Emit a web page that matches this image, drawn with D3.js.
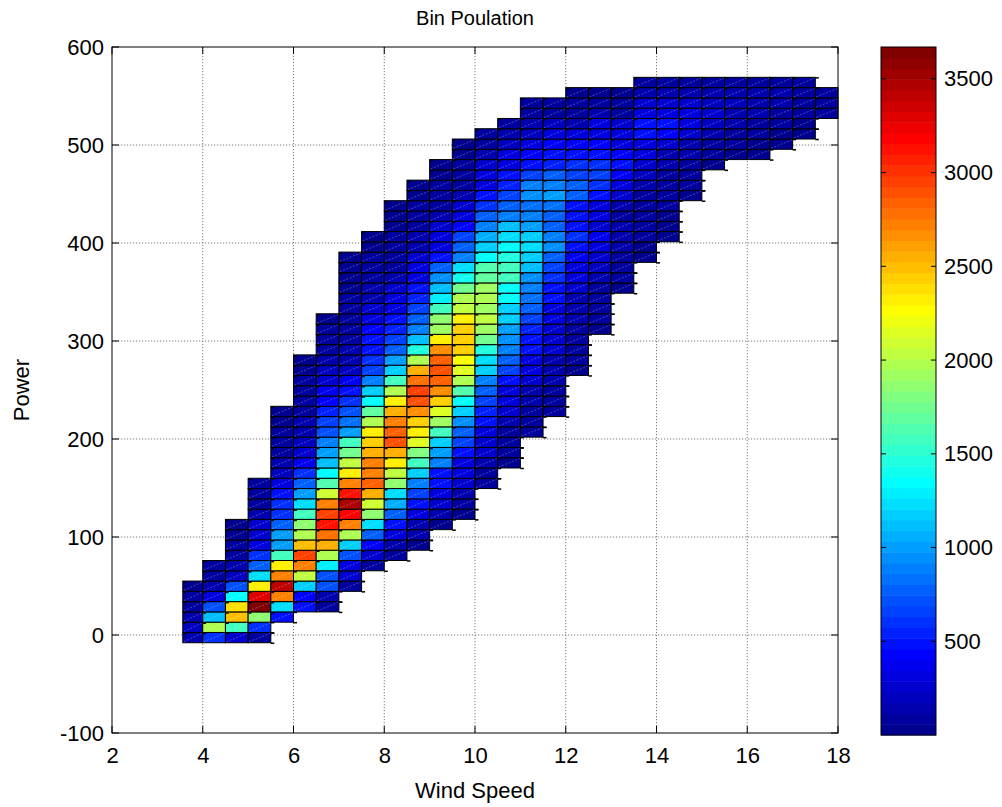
<!DOCTYPE html>
<html>
<head>
<meta charset="utf-8">
<script src="https://cdn.jsdelivr.net/npm/d3@7"></script>
<style>
  body { margin: 0; background: #fff; }
  text { font-family: "Liberation Sans", Arial, Helvetica, sans-serif; fill: #000; }
</style>
</head>
<body>
<svg id="chart" width="1002" height="807"></svg>
<script>
// Wind speed bin edges (m/s); one column of cells per bin
const windEdges = [3.56, 4, 4.5, 5, 5.5, 6, 6.5, 7, 7.5, 8, 8.5, 9, 9.5, 10, 10.5, 11,
                   11.5, 12, 12.5, 13, 13.5, 14, 14.5, 15, 15.5, 16, 16.5, 17, 17.5, 18];

// Power bins: lower edge of the first bin and bin height
const powerBinStart = -7.9;
const powerBinStep = 10.49;

// Index of the lowest populated power bin in each wind column
const firstPowerBin = [0, 0, 0, 0, 2, 3, 3, 5, 7, 8, 9, 11, 12, 15, 17, 20, 22, 26, 30, 34,
                       37, 39, 43, 46, 47, 47, 48, 49, 51];

// Sample counts per bin, listed bottom to top for each wind column
const binCounts = [
  [120, 180, 150, 100, 70, 50],
  [630, 1950, 1100, 690, 340, 170, 90, 60],
  [230, 1600, 2500, 2400, 1376, 690, 200, 120, 80, 60, 50, 40],
  [80, 600, 1835, 3670, 3300, 2294, 1261, 750, 630, 344, 230, 280, 120, 100, 80, 60],
  [500, 1261, 2700, 3440, 2700, 2350, 1550, 1030, 1030, 800, 630, 580, 500, 300, 200, 120,
   100, 80, 60, 50, 40],
  [500, 420, 1147, 2064, 2750, 2980, 2523, 2000, 1835, 1550, 1261, 980, 750, 600, 350, 230,
   200, 170, 150, 100, 80, 60, 60, 50, 40],
  [60, 170, 690, 700, 1300, 2000, 2550, 2800, 3150, 2950, 2750, 2100, 1650, 1350, 1100, 1000,
   900, 700, 650, 550, 450, 350, 250, 180, 120, 90, 70, 60, 40],
  [60, 230, 344, 720, 1150, 1950, 2750, 3200, 3450, 3150, 2750, 2350, 2050, 1750, 1550, 1000,
   850, 700, 600, 500, 350, 180, 150, 130, 110, 100, 80, 70, 60, 50, 40, 40, 30],
  [100, 230, 440, 800, 1250, 1850, 2100, 2550, 2850, 2750, 2700, 2550, 2450, 2294, 2000, 1700,
   1376, 1147, 917, 688, 630, 500, 460, 420, 344, 230, 170, 120, 100, 80, 70, 50, 40],
  [60, 170, 340, 460, 800, 1050, 1260, 1835, 2050, 2294, 2550, 2900, 2850, 2750, 2550, 2300,
   2000, 1600, 1200, 1030, 800, 688, 570, 460, 344, 290, 230, 170, 100, 80, 70, 60, 50, 40, 30],
  [55, 120, 170, 344, 460, 688, 900, 1150, 1550, 1800, 2150, 2294, 2450, 2650, 2900, 2950,
   2800, 2550, 1950, 1450, 1090, 917, 800, 688, 570, 460, 344, 290, 230, 170, 130, 100, 80, 60, 50, 40],
  [40, 170, 230, 290, 480, 460, 917, 1030, 1200, 1600, 1900, 2150, 2450, 2650, 2850, 2900,
   2850, 2650, 2294, 1900, 1835, 1600, 1300, 1100, 950, 750, 460, 344, 290, 230, 170, 100, 80, 60, 50, 40],
  [55, 100, 170, 230, 300, 344, 460, 688, 750, 970, 1147, 1376, 1650, 1950, 2150, 2250,
   2450, 2450, 2450, 2350, 2060, 2000, 1750, 1420, 1250, 917, 800, 688, 420, 344, 230, 170, 100, 80, 60, 50, 40],
  [60, 80, 120, 230, 230, 300, 460, 570, 688, 800, 917, 1147, 1261, 1450, 1750, 1900,
   2060, 1900, 2000, 1900, 1700, 1650, 1376, 1200, 1050, 900, 750, 600, 460, 344, 290, 230, 170, 100, 60],
  [40, 60, 70, 90, 170, 230, 290, 344, 460, 688, 800, 917, 970, 1030, 1147, 1147,
   1320, 1376, 1600, 1550, 1450, 1350, 1261, 1100, 917, 800, 688, 570, 460, 344, 290, 200, 120, 60],
  [60, 90, 110, 150, 170, 230, 290, 344, 460, 500, 570, 688, 800, 860, 917, 970,
   1090, 1147, 1250, 1147, 1030, 917, 860, 970, 917, 688, 500, 420, 290, 200, 170, 100, 60],
  [60, 80, 100, 150, 120, 170, 230, 230, 230, 290, 344, 460, 500, 630, 688, 800,
   950, 917, 800, 800, 850, 1030, 917, 750, 570, 460, 420, 290, 200, 100, 60],
  [50, 70, 80, 100, 110, 120, 130, 170, 230, 290, 300, 400, 500, 630, 500, 460,
   460, 800, 750, 688, 630, 500, 420, 344, 170, 90, 60, 40],
  [40, 60, 70, 90, 100, 150, 200, 250, 300, 350, 230, 290, 344, 460, 600, 688,
   630, 460, 420, 344, 290, 170, 80, 40],
  [40, 60, 80, 100, 130, 150, 170, 100, 170, 230, 344, 420, 460, 420, 344, 290, 230, 100, 60, 40],
  [40, 50, 60, 70, 80, 90, 100, 130, 200, 280, 300, 344, 460, 460, 300, 230, 150, 80],
  [30, 40, 50, 60, 70, 90, 110, 140, 170, 230, 420, 500, 290, 230, 170, 80],
  [40, 60, 80, 100, 130, 170, 230, 344, 290, 230, 170, 80],
  [40, 60, 90, 130, 200, 230, 200, 170, 80],
  [40, 60, 90, 120, 170, 200, 170, 80],
  [30, 50, 70, 100, 130, 170, 150, 80],
  [30, 50, 80, 110, 130, 120, 70],
  [30, 50, 80, 100, 90, 60],
  [60, 90, 70]
];

const xTickValues = [2, 4, 6, 8, 10, 12, 14, 16, 18];
const yTickValues = [-100, 0, 100, 200, 300, 400, 500, 600];
const colorTickValues = [500, 1000, 1500, 2000, 2500, 3000, 3500];

const chartTitle = "Bin Poulation";
const xLabel = "Wind Speed";
const yLabel = "Power";

// ---- layout ----
const plotBox = { left: 112, right: 838, top: 47, bottom: 733 };
const barBox = { left: 881, right: 936, top: 47, bottom: 735 };
const plainNumber = d => String(d);   // hyphen-minus, no thousands separator
const tickFont = 22;

const svg = d3.select("#chart");

const x = d3.scaleLinear().domain([2, 18]).range([plotBox.left, plotBox.right]);
const y = d3.scaleLinear().domain([-100, 600]).range([plotBox.bottom, plotBox.top]);

// MATLAB-style 64-step jet colormap
function jetColors(m) {
  const n = Math.ceil(m / 4);
  const u = [];
  for (let k = 1; k <= n; k++) u.push(k / n);
  for (let k = 0; k < n - 1; k++) u.push(1);
  for (let k = n; k >= 1; k--) u.push(k / n);
  const shift = Math.ceil(n / 2) - (m % 4 === 1 ? 1 : 0);
  const pick = j => (j >= 1 && j <= u.length) ? u[j - 1] : 0;
  const out = [];
  for (let i = 1; i <= m; i++) {
    const g = i - shift, r = g - n, b = g + n;
    out.push(d3.rgb(255 * pick(r), 255 * pick(g), 255 * pick(b)).formatHex());
  }
  return out;
}
const jet = jetColors(64);

const maxCount = d3.max(binCounts.flat());
const color = d3.scaleQuantize().domain([0, maxCount]).range(jet);

// ---- flatten bins into cells ----
const cells = [];
const occupied = new Set();
binCounts.forEach((col, c) => {
  col.forEach((v, k) => {
    const r = firstPowerBin[c] + k;
    occupied.add(c + ":" + r);
    cells.push({
      c, r, v,
      x0: windEdges[c], x1: windEdges[c + 1],
      p0: powerBinStart + r * powerBinStep,
      p1: powerBinStart + (r + 1) * powerBinStep
    });
  });
});

// ---- grid (dotted, behind cells) ----
const grid = svg.append("g").attr("stroke", "#5a5a5a").attr("stroke-width", 0.8)
  .attr("stroke-dasharray", "1.2,1.8");
grid.selectAll(".gx").data(xTickValues.slice(1, -1)).join("line")
  .attr("x1", d => x(d)).attr("x2", d => x(d))
  .attr("y1", plotBox.top).attr("y2", plotBox.bottom);
grid.selectAll(".gy").data(yTickValues.slice(1, -1)).join("line")
  .attr("y1", d => y(d)).attr("y2", d => y(d))
  .attr("x1", plotBox.left).attr("x2", plotBox.right);

// ---- cells ----
const cellLayer = svg.append("g");
cellLayer.selectAll("rect.cell").data(cells).join("rect")
  .attr("class", "cell")
  .attr("x", d => x(d.x0))
  .attr("y", d => y(d.p1))
  .attr("width", d => x(d.x1) - x(d.x0))
  .attr("height", d => y(d.p0) - y(d.p1))
  .attr("fill", d => color(d.v))
  .attr("stroke", "#000")
  .attr("stroke-width", 1);

// faint facet diagonal in each cell
cellLayer.selectAll("line.diag").data(cells).join("line")
  .attr("class", "diag")
  .attr("x1", d => x(d.x0) + 1).attr("y1", d => y(d.p0) - 1)
  .attr("x2", d => x(d.x1) - 1).attr("y2", d => y(d.p1) + 1)
  .attr("stroke", "#fff").attr("stroke-opacity", 0.4)
  .attr("stroke-width", 0.7).attr("stroke-dasharray", "2,1.5");

// small dark notch at each cell's upper-left corner
cellLayer.selectAll("rect.notch").data(cells).join("rect")
  .attr("class", "notch")
  .attr("x", d => x(d.x0) + 0.5)
  .attr("y", d => y(d.p1) + 0.4)
  .attr("width", 2.8).attr("height", 1.4)
  .attr("fill", "#000");

// edge stubs on the right side of the populated region
const rightCells = cells.filter(d => !occupied.has((d.c + 1) + ":" + d.r) && d.c < windEdges.length - 2);
const stubs = [];
rightCells.forEach(d => { stubs.push({ xs: d.x1, p: d.p1 }); stubs.push({ xs: d.x1, p: d.p0 }); });
cellLayer.selectAll("line.stub").data(stubs).join("line")
  .attr("class", "stub")
  .attr("x1", d => x(d.xs)).attr("x2", d => x(d.xs) + 3.5)
  .attr("y1", d => y(d.p) + 0.5).attr("y2", d => y(d.p) + 0.5)
  .attr("stroke", "#000").attr("stroke-width", 1.5);

// ---- axes box and ticks ----
const tickLen = 7;
const axes = svg.append("g");
axes.append("rect")
  .attr("x", plotBox.left).attr("y", plotBox.top)
  .attr("width", plotBox.right - plotBox.left).attr("height", plotBox.bottom - plotBox.top)
  .attr("fill", "none").attr("stroke", "#000").attr("stroke-width", 1);

const xAxis = d3.axisBottom(x).tickValues(xTickValues).tickFormat(plainNumber).tickSize(0).tickPadding(14);
const xg = axes.append("g").attr("transform", `translate(0,${plotBox.bottom})`).call(xAxis);
xg.select(".domain").remove();
xg.selectAll("text").attr("font-size", tickFont).attr("font-family", "Liberation Sans, Arial, sans-serif");

const yAxis = d3.axisLeft(y).tickValues(yTickValues).tickFormat(plainNumber).tickSize(0).tickPadding(8);
const yg = axes.append("g").attr("transform", `translate(${plotBox.left},0)`).call(yAxis);
yg.select(".domain").remove();
yg.selectAll("text").attr("font-size", tickFont).attr("font-family", "Liberation Sans, Arial, sans-serif");

// inward tick marks on all four sides
const tickG = axes.append("g").attr("stroke", "#000").attr("stroke-width", 1);
xTickValues.forEach(v => {
  tickG.append("line").attr("x1", x(v)).attr("x2", x(v)).attr("y1", plotBox.bottom).attr("y2", plotBox.bottom - tickLen);
  tickG.append("line").attr("x1", x(v)).attr("x2", x(v)).attr("y1", plotBox.top).attr("y2", plotBox.top + tickLen);
});
yTickValues.forEach(v => {
  tickG.append("line").attr("y1", y(v)).attr("y2", y(v)).attr("x1", plotBox.left).attr("x2", plotBox.left + tickLen);
  tickG.append("line").attr("y1", y(v)).attr("y2", y(v)).attr("x1", plotBox.right).attr("x2", plotBox.right - tickLen);
});

// ---- titles ----
svg.append("text").attr("x", (plotBox.left + plotBox.right) / 2).attr("y", 25)
  .attr("text-anchor", "middle").attr("font-size", 20).text(chartTitle);
svg.append("text").attr("x", (plotBox.left + plotBox.right) / 2).attr("y", 798)
  .attr("text-anchor", "middle").attr("font-size", 22).text(xLabel);
svg.append("text").attr("transform", `translate(29,${(plotBox.top + plotBox.bottom) / 2}) rotate(-90)`)
  .attr("text-anchor", "middle").attr("font-size", 22).text(yLabel);

// ---- colorbar ----
const cb = d3.scaleLinear().domain([0, maxCount]).range([barBox.bottom, barBox.top]);
const steps = d3.range(jet.length).map(i => ({ i, lo: maxCount * i / jet.length, hi: maxCount * (i + 1) / jet.length }));
svg.append("g").selectAll("rect").data(steps).join("rect")
  .attr("x", barBox.left).attr("width", barBox.right - barBox.left)
  .attr("y", d => cb(d.hi)).attr("height", d => cb(d.lo) - cb(d.hi) + 0.5)
  .attr("fill", d => jet[d.i]);
svg.append("rect").attr("x", barBox.left).attr("y", barBox.top)
  .attr("width", barBox.right - barBox.left).attr("height", barBox.bottom - barBox.top)
  .attr("fill", "none").attr("stroke", "#000").attr("stroke-width", 1);

const cAxis = d3.axisRight(cb).tickValues(colorTickValues).tickFormat(plainNumber).tickSize(0).tickPadding(8);
const cg = svg.append("g").attr("transform", `translate(${barBox.right},0)`).call(cAxis);
cg.select(".domain").remove();
cg.selectAll("text").attr("font-size", tickFont).attr("font-family", "Liberation Sans, Arial, sans-serif");
const cbTicks = svg.append("g").attr("stroke", "#000").attr("stroke-width", 1);
colorTickValues.forEach(v => {
  cbTicks.append("line").attr("x1", barBox.left).attr("x2", barBox.left + 5).attr("y1", cb(v)).attr("y2", cb(v));
  cbTicks.append("line").attr("x1", barBox.right).attr("x2", barBox.right - 5).attr("y1", cb(v)).attr("y2", cb(v));
});
</script>
</body>
</html>
